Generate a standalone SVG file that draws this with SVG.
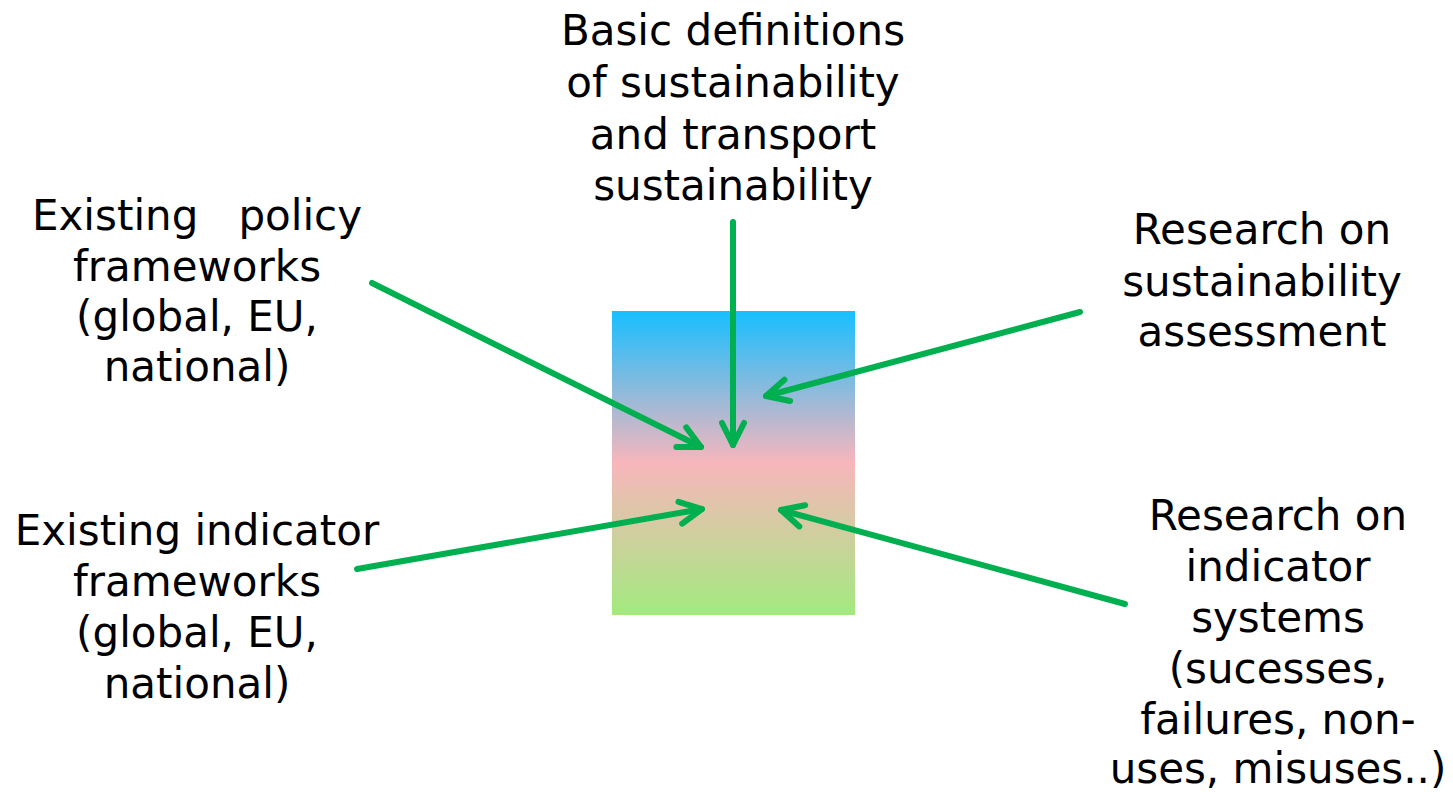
<svg xmlns="http://www.w3.org/2000/svg" width="1453" height="792" viewBox="0 0 1453 792">
<style>
text{font-family:"DejaVu Sans",sans-serif;font-size:42px;fill:#000;text-anchor:middle}
.c{stroke:#00B050;stroke-width:6;fill:none;stroke-linecap:round;stroke-linejoin:round}
</style>
<defs>
<linearGradient id="g" x1="0" y1="0" x2="0" y2="1">
<stop offset="0" stop-color="#17BFFF"/>
<stop offset="0.5" stop-color="#F8B6BC"/>
<stop offset="1" stop-color="#A2EA7E"/>
</linearGradient>
<marker id="a" markerUnits="userSpaceOnUse" viewBox="-30 -15 36 30" refX="0" refY="0" markerWidth="36" markerHeight="30" orient="auto" overflow="visible">
<path d="M-22,-11 L0,0 L-22,11" fill="none" stroke="#00B050" stroke-width="6" stroke-linecap="round" stroke-linejoin="round"/>
</marker>
</defs>
<g id="center"><rect x="612" y="311" width="243" height="304" fill="url(#g)"/></g>
<g id="n-basic"><text x="733" y="45">Basic definitions</text><text x="733" y="97">of sustainability</text><text x="733" y="149">and transport</text><text x="733" y="200">sustainability</text></g>
<g id="n-policy"><text x="197" y="230" xml:space="preserve">Existing   policy</text><text x="197" y="281">frameworks</text><text x="197" y="331">(global, EU,</text><text x="197" y="381">national)</text></g>
<g id="n-assess"><text x="1262" y="244">Research on</text><text x="1262" y="296">sustainability</text><text x="1262" y="346">assessment</text></g>
<g id="n-indicator"><text x="197" y="545">Existing indicator</text><text x="197" y="596">frameworks</text><text x="197" y="647">(global, EU,</text><text x="197" y="698">national)</text></g>
<g id="n-research"><text x="1278" y="530">Research on</text><text x="1278" y="581">indicator</text><text x="1278" y="632">systems</text><text x="1278" y="683">(sucesses,</text><text x="1278" y="734">failures, non-</text><text x="1278" y="783">uses, misuses..)</text></g>
<g id="connectors">
<line class="c" x1="733" y1="222" x2="733" y2="445" marker-end="url(#a)"/>
<line class="c" x1="372" y1="283" x2="701" y2="447" marker-end="url(#a)"/>
<line class="c" x1="1080" y1="312" x2="766" y2="396" marker-end="url(#a)"/>
<line class="c" x1="357" y1="569" x2="702" y2="509" marker-end="url(#a)"/>
<line class="c" x1="1125" y1="604" x2="781" y2="510" marker-end="url(#a)"/>
</g>
</svg>
